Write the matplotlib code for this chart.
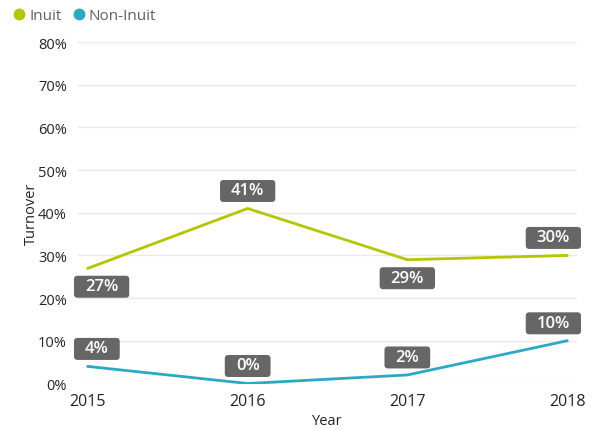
import matplotlib
matplotlib.use("Agg")
import matplotlib.pyplot as plt
from matplotlib.lines import Line2D
from matplotlib.patches import FancyBboxPatch
from matplotlib.transforms import IdentityTransform

years = [2015, 2016, 2017, 2018]
inuit = [27, 41, 29, 30]
non_inuit = [4, 0, 2, 10]
inuit_label_side = ["below", "above", "below", "above"]
non_inuit_label_side = ["above", "above", "above", "above"]
y_ticks = [0, 10, 20, 30, 40, 50, 60, 70, 80]

GREEN = "#B3C600"
BLUE = "#2AA8C4"
BOX = "#666666"
TXT = "#252423"

plt.rcParams['font.family'] = ['Open Sans', 'DejaVu Sans']

W, H = 598, 431
fig = plt.figure(figsize=(W/100, H/100), dpi=100)
ax = fig.add_axes([78/W, 1-384.5/H, (577-78)/W, (384.5-43)/H])

ax.plot(years, inuit, color=GREEN, lw=2, solid_joinstyle='miter', zorder=3)
ax.plot(years, non_inuit, color=BLUE, lw=2, solid_joinstyle='miter', zorder=3)

ax.set_xlim(2015 - 0.0626, 2018 + 0.0626)
ax.set_ylim(0, 80)
ax.set_yticks(y_ticks)
ax.set_yticklabels([f"{t}%" for t in y_ticks])
ax.set_xticks(years)
ax.set_xticklabels([str(y) for y in years])
ax.grid(axis='y', color='#E9E9E9', lw=1)
ax.set_axisbelow(True)
for s in ax.spines.values():
    s.set_visible(False)
ax.tick_params(axis='y', length=0, labelsize=10.5, colors=TXT, pad=8)
ax.tick_params(axis='x', length=0, labelsize=11.5, colors=TXT, pad=7)

ax.set_ylabel("Turnover", fontsize=10.5, color=TXT, labelpad=-1)
ax.set_xlabel("Year", fontsize=10.5, color=TXT, labelpad=2.5)

renderer = fig.canvas.get_renderer()
ax_left_px, ax_right_px = 78, 577

def add_labels(vals, sides):
    for x, v, side in zip(years, vals, sides):
        px, py = ax.transData.transform((x, v))
        cy = py + 17.5 if side == "above" else py - 18.5
        t = fig.text(0, 0, f"{v}%", transform=IdentityTransform(),
                     ha='center', va='center', fontsize=12, color='white',
                     fontweight='semibold', zorder=6)
        tw = t.get_window_extent(renderer).width
        bw, bh = tw + 22, 22
        cx = px
        cx = max(cx, ax_left_px - 4 + bw/2)
        cx = min(cx, ax_right_px + 4 - bw/2)
        t.set_position((cx, cy + 0.5))
        patch = FancyBboxPatch((cx - bw/2, cy - bh/2), bw, bh,
                               boxstyle='round,pad=0,rounding_size=3.5',
                               fc=BOX, ec='none', transform=IdentityTransform(),
                               zorder=5)
        fig.patches.append(patch)
        patch.set_figure(fig)

add_labels(inuit, inuit_label_side)
add_labels(non_inuit, non_inuit_label_side)

handles = [Line2D([], [], marker='o', ls='none', color=GREEN, markersize=7.5),
           Line2D([], [], marker='o', ls='none', color=BLUE, markersize=7.5)]
leg = fig.legend(handles, ["Inuit", "Non-Inuit"], loc='upper left',
                 bbox_to_anchor=(0.0, 1.0), ncol=2, frameon=False,
                 fontsize=11, handletextpad=0.0, columnspacing=0.5,
                 handlelength=1.3, borderaxespad=0.2)
for t in leg.get_texts():
    t.set_color('#605E5C')

fig.savefig("out.png", dpi=100)
